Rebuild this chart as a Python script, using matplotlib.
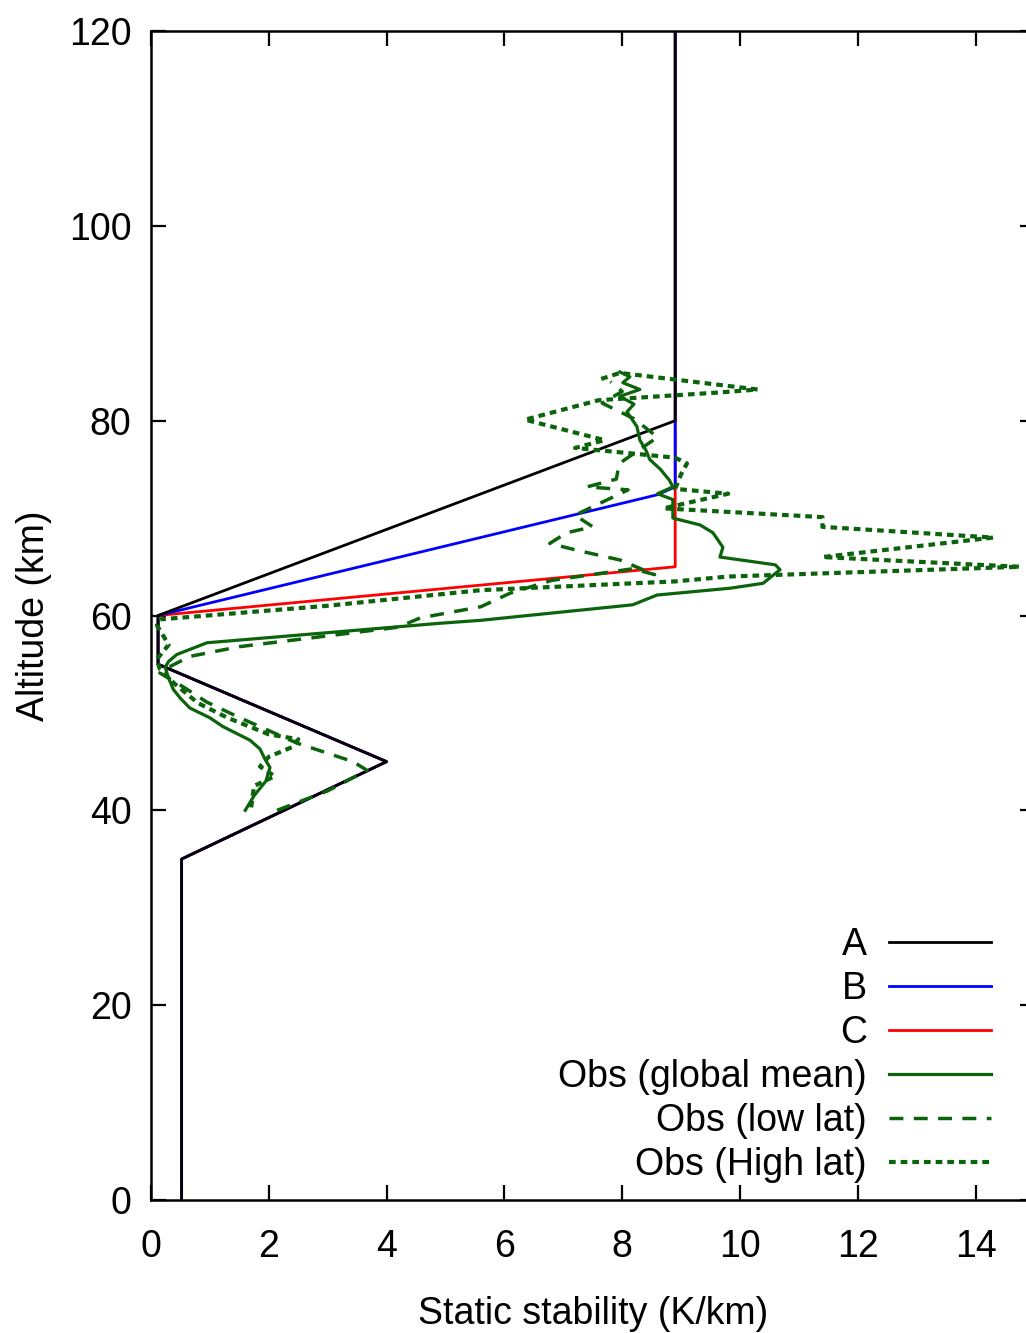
import matplotlib
matplotlib.use("Agg")
import matplotlib.pyplot as plt

plt.rcParams['font.family'] = ['Liberation Sans', 'DejaVu Sans']

# Idealised static stability profiles (K/km) vs altitude (km)
alt_a = [0, 35, 45, 55, 60, 80, 120]
stab_a = [0.52, 0.52, 4.0, 0.12, 0.12, 8.9, 8.9]

alt_b = [0, 35, 45, 55, 60, 72.4, 73.2, 120]
stab_b = [0.52, 0.52, 4.0, 0.12, 0.12, 8.6, 8.9, 8.9]

alt_c = [0, 35, 45, 55, 60, 65, 120]
stab_c = [0.52, 0.52, 4.0, 0.12, 0.12, 8.9, 8.9]

# Observed profiles
alt_glob = [40.0, 41.5, 43.0, 44.4, 45.2, 46.3, 47.2, 48.6, 49.5, 50.5, 51.5, 52.4,
            53.7, 54.7, 55.3, 56.0, 57.2, 59.2, 59.5, 61.1, 62.1, 62.8, 63.3, 64.7,
            65.2, 66.0, 67.0, 68.5, 69.3, 70.0, 71.9, 72.5, 73.2, 73.9, 75.0, 76.0,
            77.0, 78.0, 79.4, 80.9, 81.7, 82.5, 83.2, 83.9, 84.5, 85.0]
stab_glob = [1.6, 1.75, 1.95, 2.02, 1.94, 1.85, 1.68, 1.22, 1.0, 0.66, 0.5, 0.38,
             0.29, 0.24, 0.3, 0.44, 0.95, 4.9, 5.59, 8.18, 8.59, 9.83, 10.39, 10.68,
             10.6, 9.66, 9.71, 9.54, 9.32, 8.86, 8.86, 8.6, 8.86, 8.8, 8.65, 8.47,
             8.4, 8.3, 8.25, 8.08, 8.2, 7.96, 8.3, 8.01, 8.13, 7.96]

alt_low = [40.0, 42.0, 44.1, 45.0, 46.9, 49.5, 51.1, 52.7, 54.1, 54.6, 55.8, 56.8,
           58.8, 59.75, 60.9, 62.3, 63.6, 64.8, 64.2, 65.7, 66.7, 67.4, 68.5, 69.1,
           70.3, 72.9, 73.2, 74.0, 75.6, 78.3, 80.2, 81.8, 83.0, 84.0]
stab_low = [2.14, 3.0, 3.67, 3.43, 2.48, 1.51, 0.95, 0.54, 0.15, 0.27, 0.66, 1.5,
            4.2, 4.57, 5.6, 6.1, 6.8, 8.18, 8.55, 7.96, 7.23, 6.77, 7.06, 7.5,
            7.2, 8.1, 7.4, 7.9, 7.95, 8.6, 8.2, 7.66, 8.0, 7.8]

alt_high = [40.3, 42.5, 43.5, 44.5, 45.5, 46.5, 47.3, 47.8, 49.5, 51.0, 53.0, 54.5,
            55.5, 57.0, 59.0, 59.6, 61.0, 62.6, 63.5, 64.0, 65.0, 66.0, 68.0, 69.1,
            70.1, 70.8, 71.0, 72.5, 73.0, 74.5, 75.6, 76.2, 77.2, 78.0, 80.1, 82.1,
            82.9, 83.2, 84.9, 84.2]
stab_high = [1.7, 1.75, 2.1, 1.85, 2.0, 2.4, 2.5, 2.0, 1.3, 0.8, 0.4, 0.15,
             0.1, 0.3, 0.1, 0.15, 3.0, 5.6, 8.9, 9.8, 14.75, 11.4, 14.3, 11.4,
             11.4, 9.3, 8.7, 9.8, 8.9, 9.0, 9.1, 8.9, 7.2, 7.7, 6.35, 7.6,
             9.66, 10.3, 7.96, 7.6]

green = '#0b640b'

fig = plt.figure(figsize=(10.26, 13.33), dpi=100)
ax = fig.add_axes([151 / 1026, 133 / 1333, 883.5 / 1026, 1169 / 1333])

lc, = ax.plot(stab_c, alt_c, color='#ff0000', lw=2.0, label='C')
lb, = ax.plot(stab_b, alt_b, color='#0000ff', lw=2.0, label='B')
la, = ax.plot(stab_a, alt_a, color='black', lw=2.0, label='A')
lg, = ax.plot(stab_glob, alt_glob, color=green, lw=2.3, label='Obs (global mean)')
ll, = ax.plot(stab_low, alt_low, color=green, lw=2.5, linestyle=(0, (4, 3)),
              label='Obs (low lat)')
lh, = ax.plot(stab_high, alt_high, color=green, lw=3.0, linestyle=(0, (1.6, 1.2)),
              label='Obs (High lat)')

ax.set_xlim(0, 15)
ax.set_ylim(0, 120)
ax.set_xticks(range(0, 15, 2))
ax.set_yticks(range(0, 121, 20))
ax.tick_params(direction='in', length=11, width=1.6, labelsize=27,
               top=True, right=True)
ax.tick_params(axis='x', pad=21)
ax.tick_params(axis='y', pad=14)
for sp in ax.spines.values():
    sp.set_linewidth(1.8)

ax.set_xlabel('Static stability (K/km)', fontsize=27, labelpad=22)
ax.set_ylabel('Altitude (km)', fontsize=27, labelpad=12)

ax.legend(handles=[la, lb, lc, lg, ll, lh], loc='lower right',
          bbox_to_anchor=(0.980, -0.0077),
          markerfirst=False, frameon=False, fontsize=27,
          handlelength=2.7, handletextpad=0.6, labelspacing=0.21,
          borderaxespad=0.3)

fig.savefig('out.png', dpi=100)
